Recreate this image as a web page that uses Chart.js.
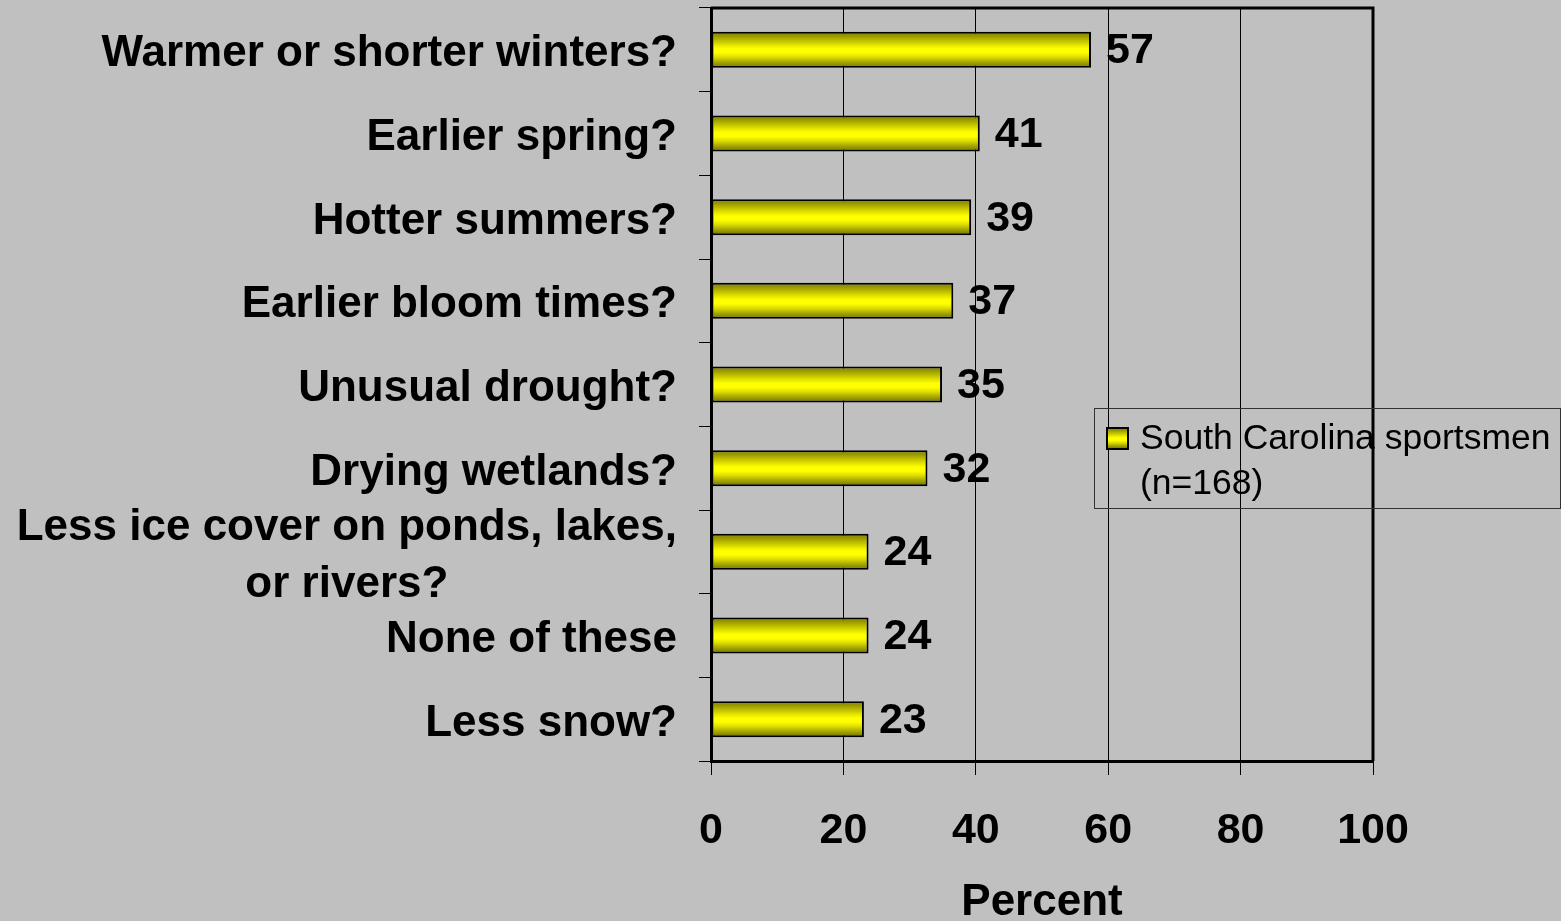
<!DOCTYPE html>
<html><head><meta charset="utf-8">
<script src="https://cdn.jsdelivr.net/npm/chart.js@4.4.1/dist/chart.umd.min.js"></script>
<style>html,body{margin:0;padding:0;background:#c0c0c0;}#wrap{width:1561px;height:921px;position:relative;}</style>
</head><body><div id="wrap"><canvas id="c"></canvas></div>
<script>
const categories = [["Warmer or shorter winters?"],["Earlier spring?"],["Hotter summers?"],["Earlier bloom times?"],["Unusual drought?"],["Drying wetlands?"],["Less ice cover on ponds, lakes,","or rivers?"],["None of these"],["Less snow?"]];
const values = [57.4, 40.6, 39.3, 36.6, 34.9, 32.7, 23.8, 23.8, 23.1];
const valueLabels = ["57","41","39","37","35","32","24","24","23"];
const seriesLabel = ["South Carolina sportsmen","(n=168)"];
const xTicks = [0,20,40,60,80,100];
const axisTitle = "Percent";

const FONT = '"Liberation Sans", Arial, sans-serif';

function barGradient(ctx, top, h){
  const g = ctx.createLinearGradient(0, top, 0, top + h);
  g.addColorStop(0, '#7f7f00');
  g.addColorStop(0.12, '#9a9a00');
  g.addColorStop(0.26, '#c4c400');
  g.addColorStop(0.38, '#e8e800');
  g.addColorStop(0.47, '#ffff00');
  g.addColorStop(0.58, '#ffff00');
  g.addColorStop(0.7, '#dede00');
  g.addColorStop(0.83, '#abab00');
  g.addColorStop(1, '#6e6e00');
  return g;
}

const BAR_PCT = 0.43;

const decorPlugin = {
  id: 'decor',
  afterDraw(chart){
    const ctx = chart.ctx;
    const ca = chart.chartArea;
    const ys = chart.scales.y;
    ctx.save();
    // top and right border of plot
    ctx.strokeStyle = '#000';
    ctx.lineWidth = 3;
    ctx.beginPath();
    ctx.moveTo(ca.left, ca.top);
    ctx.lineTo(ca.right, ca.top);
    ctx.lineTo(ca.right, ca.bottom);
    ctx.stroke();
    // category labels
    ctx.fillStyle = '#000';
    ctx.font = 'bold 44px ' + FONT;
    ctx.textBaseline = 'alphabetic';
    const rightEdge = ca.left - 34;
    const lh = 56.5;
    chart.data.labels.forEach((lab, i) => {
      const lines = Array.isArray(lab) ? lab : [lab];
      const cy = ys.getPixelForValue(i);
      const maxW = Math.max(...lines.map(l => ctx.measureText(l).width));
      const cx = rightEdge - maxW / 2;
      ctx.textAlign = 'center';
      lines.forEach((l, k) => {
        ctx.fillText(l, cx, cy + 16.5 + (k - (lines.length - 1) / 2) * lh);
      });
    });
    // value labels
    ctx.font = 'bold 43px ' + FONT;
    ctx.textAlign = 'left';
    const meta = chart.getDatasetMeta(0);
    meta.data.forEach((el, i) => {
      ctx.fillText(valueLabels[i], el.x + 15, el.y + 13.5);
    });
    // legend
    const lx = 1094, ly = 408, lw = 466, lhh = 100;
    ctx.strokeStyle = '#333';
    ctx.lineWidth = 1;
    ctx.strokeRect(lx + 0.5, ly + 0.5, lw, lhh);
    ctx.fillStyle = barGradient(ctx, ly + 20, 21);
    ctx.fillRect(lx + 13, ly + 20, 21, 21);
    ctx.strokeStyle = '#000';
    ctx.lineWidth = 2;
    ctx.strokeRect(lx + 13, ly + 20, 21, 21);
    ctx.fillStyle = '#000';
    ctx.font = '35.5px ' + FONT;
    ctx.textAlign = 'left';
    ctx.textBaseline = 'middle';
    seriesLabel.forEach((t, k) => ctx.fillText(t, lx + 46, ly + 31 + k * 45));
    ctx.restore();
  }
};

new Chart(document.getElementById('c'), {
  type: 'bar',
  data: {
    labels: categories,
    datasets: [{
      label: seriesLabel.join(' '),
      data: values,
      backgroundColor: (c) => {
        const chart = c.chart;
        const ca = chart.chartArea;
        if (!ca || c.dataIndex === undefined) return '#ffff00';
        const ys = chart.scales.y;
        const band = (ca.bottom - ca.top) / chart.data.labels.length;
        const h = band * BAR_PCT;
        const cy = ys.getPixelForValue(c.dataIndex);
        return barGradient(chart.ctx, cy - h / 2, h);
      },
      borderColor: '#000',
      borderWidth: 2,
      borderSkipped: false,
      categoryPercentage: 1,
      barPercentage: BAR_PCT
    }]
  },
  options: {
    indexAxis: 'y',
    responsive: true,
    maintainAspectRatio: false,
    animation: false,
    layout: { padding: { top: 8, right: 188, left: 0, bottom: 0 } },
    plugins: { legend: { display: false }, tooltip: { enabled: false } },
    scales: {
      x: {
        min: 0, max: 100,
        afterBuildTicks: s => { s.ticks = xTicks.map(v => ({ value: v })); },
        afterFit: s => { s.height = 160; },
        grid: { color: '#000', lineWidth: 1, tickLength: 14, drawTicks: true },
        border: { color: '#000', width: 3 },
        ticks: { color: '#000', font: { family: FONT, size: 43, weight: 'bold' }, padding: 30 },
        title: { display: true, text: axisTitle, color: '#000', font: { family: FONT, size: 44, weight: 'bold' }, padding: { top: 0, bottom: -8 } }
      },
      y: {
        afterFit: s => { s.width = 711; },
        grid: { display: true, drawOnChartArea: false, color: '#000', lineWidth: 1, tickLength: 12, offset: true },
        border: { color: '#000', width: 3 },
        ticks: { display: false }
      }
    }
  },
  plugins: [decorPlugin]
});
</script>
</body></html>
